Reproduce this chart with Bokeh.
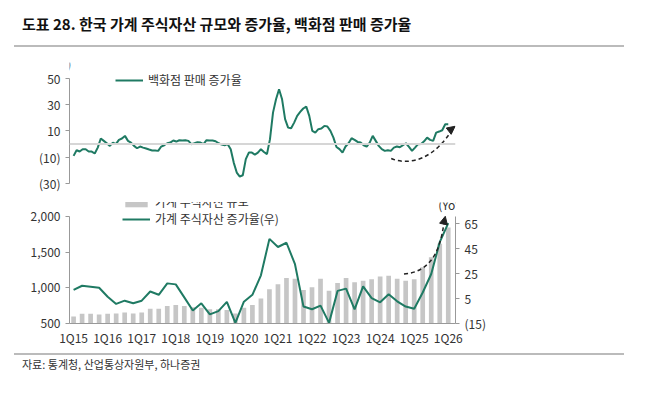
from bokeh.plotting import figure
from bokeh.models import (Div, Range1d, LinearAxis, Span, Legend, LegendItem, Label,
                          CustomJSTickFormatter, NumeralTickFormatter, FixedTicker, Arrow, NormalHead)
from bokeh.layouts import column
from bokeh.embed import file_html
from bokeh.resources import INLINE

FONT = "Noto Sans CJK KR"
GREEN = "#1f7a63"
GRAY = "#c6c6c6"

# Department store sales YoY (%) monthly from Jan 2015
dept_sales = [-9.0, -4.7, -5.7, -3.9, -3.9, -5.7, -5.7, -7.2, -2.7, 4.2, 2.4, 0.6, -1.4, 1.1, -0.1, 3.2,
              4.2, 6.2, 2.4, 1.1, -1.4, -3.2, -1.9, -2.7, -3.4, -4.2, -4.9, -4.9, -5.2, -1.9, -0.9, 0.6,
              1.1, 2.7, 1.9, 2.9, 2.7, 2.9, 2.4, -0.1, 0.6, 1.4, 1.1, -0.1, 2.9, 2.7, 2.7, 2.1, 0.6, -0.4,
              -0.9, -0.1, -3.9, -14.1, -21.7, -24.7, -23.7, -11.5, -6.5, -6.5, -8.0, -6.5, -3.9, -6.0,
              -7.7, 3.7, 23.9, 34.0, 41.6, 34.0, 18.9, 12.5, 12.0, 16.3, 21.4, 24.4, 27.0, 28.5, 21.4,
              10.0, 8.7, 11.3, 11.8, 13.8, 13.3, 10.0, 4.9, -2.2, -3.9, -6.5, -1.9, 0.6, 4.4, 3.2, 1.6,
              1.1, -0.9, -1.9, 1.1, 6.2, 2.4, -1.4, -3.9, -5.2, -4.7, -5.2, -2.7, -1.9, -2.4, -0.9, 0.6,
              -2.2, -5.2, -2.7, -0.1, 0.1, 2.1, 4.9, 3.2, 2.4, 8.7, 9.5, 10.5, 15.1, 15.1]

# Household equity assets (trillion won) quarterly 1Q15..1Q26
equity_assets = [600, 637, 637, 628, 637, 642, 655, 642, 655, 706, 706, 747, 760, 747, 730, 720,
                 700, 700, 690, 640, 720, 760, 850, 980, 1050, 1140, 1130, 970, 1010, 1130, 960, 1070,
                 1140, 1080, 1100, 1120, 1160, 1170, 1130, 1100, 1120, 1290, 1430, 1620, 1850]
equity_yoy = [11.8, 15.1, 14.4, 13.5, 6.3, 0.6, 3.2, 1.1, 3.2, 10.5, 7.9, 17.0, 16.2, 5.8, -4.6, 1.1,
              -7.7, -5.1, 2.2, -14.5, 2.4, 7.9, 23.4, 52.5, 46.0, 49.4, 32.3, -1.5, -3.6, -0.7, -14.5, 11.0,
              12.8, -3.8, 14.6, 5.3, 1.9, 8.4, 2.7, -1.5, -3.3, 9.7, 24.5, 49.9, 65.0]
tick_labels = ["1Q15", "1Q16", "1Q17", "1Q18", "1Q19", "1Q20", "1Q21", "1Q22", "1Q23", "1Q24", "1Q25", "1Q26"]

W = 634
xr = Range1d(-0.48, 44.85)

title = Div(text="도표 28. 한국 가계 주식자산 규모와 증가율, 백화점 판매 증가율", width=W, height=42,
            styles={"font-family": FONT, "font-weight": "bold", "font-size": "15px", "color": "#111",
                    "box-sizing": "border-box", "padding": "8px 0 0 8px", "height": "36px",
                    "border-bottom": "2px solid #bbb", "width": "610px", "margin-left": "14px"})

def style_axis(ax):
    ax.axis_line_color = "#999"
    ax.major_tick_line_color = "#999"
    ax.minor_tick_line_color = None
    ax.major_tick_in = 0
    ax.major_tick_out = 4
    ax.major_label_text_font = FONT
    ax.major_label_text_font_size = "12px"
    ax.major_label_text_color = "#333"

paren = CustomJSTickFormatter(code="return tick < 0 ? '(' + (-tick) + ')' : '' + tick;")

# Top chart
p1 = figure(width=W, height=140, x_range=xr, y_range=Range1d(-30, 62), output_backend="svg",
            toolbar_location=None, min_border_left=69, min_border_right=179, min_border_top=10,
            min_border_bottom=9)
p1.xaxis.visible = False
p1.grid.visible = False
p1.outline_line_color = None
p1.yaxis.ticker = FixedTicker(ticks=[-30, -10, 10, 30, 50])
p1.yaxis.formatter = paren
p1.yaxis.bounds = (-30, 50)
style_axis(p1.yaxis[0])
p1.add_layout(Span(location=0, dimension="width", line_color="#d6d6d6", line_width=2))
step = 44 / (len(dept_sales) - 1)
mx = [i * step for i in range(len(dept_sales))]
r1 = p1.line(mx, dept_sales, line_color=GREEN, line_width=2)
p1.add_layout(Label(x=-2.5, y=61, text="(YoY%)", text_font=FONT, text_font_size="12px",
                    text_color="#333", text_align="center", text_baseline="middle"))
p1.bezier(x0=[37.3], y0=[-11], x1=[44.6], y1=[12.5], cx0=[39.5], cy0=[-17], cx1=[42.5], cy1=[-11],
          line_color="#222", line_width=1.5, line_dash="4 3")
p1.add_layout(Arrow(end=NormalHead(size=8, fill_color="#222", line_color="#222"), x_start=44.2, y_start=10.5,
                    x_end=44.8, y_end=13.5, line_alpha=0))
leg1 = Legend(items=[LegendItem(label="백화점 판매 증가율", renderers=[r1])], location=(46, 95),
              background_fill_alpha=0, border_line_alpha=0, padding=0, margin=0,
              label_text_font=FONT, label_text_font_size="12px", label_text_color="#333",
              glyph_width=28, glyph_height=12, label_height=15)
p1.add_layout(leg1, "center")

# Bottom chart
p2 = figure(width=W, height=156, x_range=xr, y_range=Range1d(500, 2200), output_backend="svg",
            toolbar_location=None, min_border_left=69, min_border_right=179, min_border_top=10,
            min_border_bottom=23)
p2.grid.visible = False
p2.outline_line_color = None
p2.extra_y_ranges = {"right": Range1d(-15, 81.5)}
qx = list(range(len(equity_assets)))
rb = p2.vbar(x=qx, top=equity_assets, bottom=500, width=0.55, fill_color=GRAY, line_color=None)
rl = p2.line(qx, equity_yoy, y_range_name="right", line_color=GREEN, line_width=2)
p2.yaxis.ticker = FixedTicker(ticks=[500, 1000, 1500, 2000])
p2.yaxis.formatter = NumeralTickFormatter(format="0,0")
p2.yaxis.bounds = (500, 2000)
style_axis(p2.yaxis[0])
ra = LinearAxis(y_range_name="right", ticker=FixedTicker(ticks=[-15, 5, 25, 45, 65]), formatter=paren,
                bounds=(-15, 70.2))
style_axis(ra)
p2.add_layout(ra, "right")
p2.xaxis.ticker = FixedTicker(ticks=[4 * i for i in range(len(tick_labels))])
p2.xaxis.major_label_overrides = {4 * i: t for i, t in enumerate(tick_labels)}
style_axis(p2.xaxis[0])
p2.xaxis.major_tick_out = 0
p2.add_layout(Label(x=-3.1, y=2165, text="(조원)", text_font=FONT, text_font_size="12px",
                    text_color="#333", text_align="center", text_baseline="middle"))
p2.add_layout(Label(x=45.2, y=2165, text="(YoY %)", text_font=FONT, text_font_size="12px",
                    text_color="#333", text_align="center", text_baseline="middle"))
p2.bezier(x0=[38.8], y0=[24.5], x1=[43.5], y1=[66], cx0=[41.5], cy0=[26], cx1=[43], cy1=[38],
          y_range_name="right", line_color="#222", line_width=1.5, line_dash="4 3")
p2.add_layout(Arrow(end=NormalHead(size=8, fill_color="#222", line_color="#222"), x_start=43.5, y_start=66,
                    x_end=43.65, y_end=70.5, y_range_name="right", line_alpha=0))
leg2 = Legend(items=[LegendItem(label="가계 주식자산 규모", renderers=[rb]),
                     LegendItem(label="가계 주식자산 증가율(우)", renderers=[rl])], location=(53, 96),
              background_fill_alpha=0, border_line_alpha=0, padding=0, margin=0, spacing=0,
              label_text_font=FONT, label_text_font_size="12px", label_text_color="#333",
              glyph_width=28, glyph_height=12, label_height=15)
p2.add_layout(leg2, "center")

footer = Div(text="자료: 통계청, 산업통상자원부, 하나증권", width=W, height=26,
             styles={"font-family": FONT, "font-size": "11px", "color": "#333", "box-sizing": "border-box",
                     "border-top": "2px solid #bbb", "padding": "2px 0 0 8px", "width": "610px",
                     "margin-left": "14px"})

layout = column(title, p1, p2, footer, spacing=0)
open("out.html", "w").write(file_html(layout, INLINE))
